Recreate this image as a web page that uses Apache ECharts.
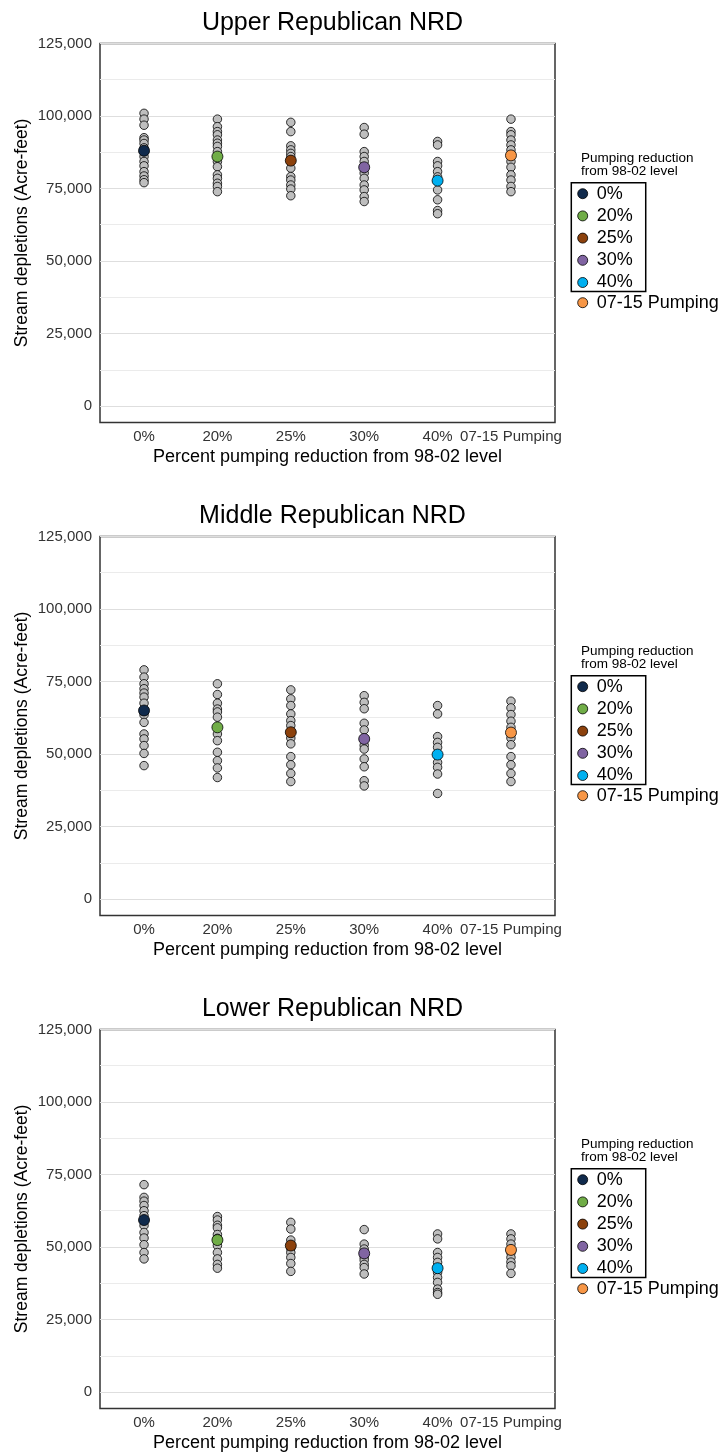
<!DOCTYPE html>
<html><head><meta charset="utf-8">
<script src="https://cdn.jsdelivr.net/npm/echarts@6/dist/echarts.min.js"></script>
<style>html,body{margin:0;padding:0;background:#fff}#c{width:725px;height:1455px}</style>
</head><body><div id="c"></div>
<script>
const categories = ['0%', '20%', '25%', '30%', '40%', '07-15 Pumping'];
const panelTitles = ['Upper Republican NRD', 'Middle Republican NRD', 'Lower Republican NRD'];
const yTicks = [0, 25000, 50000, 75000, 100000, 125000];
const legendTitle = 'Pumping reduction\nfrom 98-02 level';
const yAxisTitle = 'Stream depletions (Acre-feet)';
const xAxisTitle = 'Percent pumping reduction from 98-02 level';

// Upper Republican NRD: individual runs per category, and highlighted mean
const upperRuns = [
  [100900, 98900, 96800, 92500, 91700, 90500, 89000, 86000, 84300, 82800, 80800, 79300, 78000, 77000],
  [98900, 96300, 94600, 93500, 91700, 90600, 89500, 87700, 84300, 82500, 79700, 78500, 76800, 75700, 73900],
  [97800, 94600, 89700, 88300, 87100, 86000, 82000, 79100, 77900, 76200, 74800, 72500],
  [96000, 93700, 87700, 86000, 84300, 80300, 78500, 76200, 74500, 72200, 70500],
  [91200, 90000, 84300, 82800, 80800, 79000, 74500, 71100, 67400, 66300],
  [98900, 94600, 93500, 91700, 90000, 88300, 84300, 82300, 79700, 77900, 75700, 73900]
];
const upperMeans = [88000, 86000, 84600, 82300, 77700, 86400];

// Middle Republican NRD
const middleRuns = [
  [79000, 76500, 74200, 72500, 71000, 69600, 67500, 63500, 60900, 56900, 55200, 52900, 50200, 46000],
  [74200, 70500, 67500, 65500, 64500, 62700, 56900, 54600, 50600, 47700, 45200, 41900],
  [72100, 69000, 66700, 63800, 61500, 59800, 55500, 53500, 49100, 46300, 43300, 40500],
  [70100, 67800, 65600, 60600, 58300, 53000, 51700, 48300, 45600, 40800, 39000],
  [66700, 63800, 56000, 54000, 52300, 47100, 45400, 43100, 36400],
  [68200, 65900, 63600, 61300, 59200, 55500, 53200, 49100, 46300, 43300, 40500]
];
const middleMeans = [65000, 59200, 57500, 55200, 49800, 57400];

// Lower Republican NRD
const lowerRuns = [
  [71500, 67100, 65800, 64300, 62500, 60800, 57400, 55000, 53100, 50800, 48100, 45900],
  [60500, 59300, 57500, 56600, 54300, 53000, 50500, 48100, 45900, 44000, 42700],
  [58500, 56200, 52400, 49500, 48100, 46400, 44300, 41600],
  [56000, 51000, 49300, 46500, 45500, 44000, 42900, 40700],
  [54500, 52800, 48100, 46400, 44700, 41200, 39500, 37800, 35500, 34300, 33700],
  [54500, 52800, 51000, 48000, 46400, 44800, 43500, 40900]
];
const lowerMeans = [59300, 52400, 50500, 47800, 42700, 49000];

const meanColors = ['#102a4c', '#70ad47', '#8c410c', '#8064a2', '#00b0f0', '#f79646'];
const panelRuns = [upperRuns, middleRuns, lowerRuns];
const panelMeans = [upperMeans, middleMeans, lowerMeans];

const OFFSET = 493;
const gridTop = 43.4;
const gridHeight = 379;
const yMin = -5625, yStep = 625;
const FONT = 'Liberation Sans, Arial, sans-serif';

function fmt(v) {
  return String(v).replace(/\B(?=(\d{3})+(?!\d))/g, ',');
}
// split line colors: cycle every 25,000 (40 steps of 625): major at 0, minor at 12,500
const splitColors = [];
for (let i = 0; i < 40; i++) {
  splitColors.push(i === 9 ? '#dedede' : (i === 29 ? '#ebebeb' : 'rgba(0,0,0,0)'));
}

const grids = [], xAxes = [], yAxes = [], series = [], titles = [], legends = [];
for (let p = 0; p < 3; p++) {
  const off = p * OFFSET;
  grids.push({
    left: 100, width: 455, top: gridTop + off, height: gridHeight,
    show: true, borderColor: '#333', borderWidth: 1.5, backgroundColor: 'transparent'
  });
  xAxes.push({
    type: 'value', gridIndex: p, min: -0.6, max: 5.6,
    axisLine: { show: false }, axisTick: { show: false }, splitLine: { show: false },
    axisLabel: {
      customValues: [0, 1, 2, 3, 4, 5],
      formatter: v => categories[Math.round(v)],
      fontSize: 15, color: '#333', margin: 7, fontFamily: FONT
    },
    name: xAxisTitle, nameLocation: 'middle', nameGap: 26,
    nameTextStyle: { fontSize: 18, color: '#000', fontFamily: FONT }
  });
  yAxes.push({
    type: 'value', gridIndex: p, min: yMin, max: 125000, interval: yStep,
    axisLine: { show: false }, axisTick: { show: false },
    splitLine: { show: true, lineStyle: { color: splitColors, width: 1 } },
    axisLabel: {
      formatter: v => (yTicks.indexOf(v) >= 0 ? fmt(v) : ''),
      fontSize: 15, color: '#333', margin: 8, fontFamily: FONT
    },
    name: yAxisTitle, nameLocation: 'middle', nameGap: 69, nameMoveOverlap: false,
    nameTextStyle: { fontSize: 17.5, color: '#000', fontFamily: FONT }
  });
  const runData = [];
  panelRuns[p].forEach((vals, c) => vals.forEach(v => runData.push([c, v])));
  series.push({
    type: 'scatter', name: 'runs', xAxisIndex: p, yAxisIndex: p,
    data: runData, symbolSize: 8.5, z: 2,
    itemStyle: { color: '#bebebe', borderColor: '#000', borderWidth: 0.8, opacity: 1 }
  });
  panelMeans[p].forEach((m, c) => {
    series.push({
      type: 'scatter', name: categories[c], xAxisIndex: p, yAxisIndex: p,
      data: [[c, m]], symbolSize: 11, z: 3,
      itemStyle: { color: meanColors[c], borderColor: '#000', borderWidth: 0.8, opacity: 1 }
    });
  });
  titles.push({
    text: panelTitles[p], left: 327.5, textAlign: 'center', top: 3 + off,
    textStyle: { fontSize: 25, fontWeight: 'normal', color: '#000', lineHeight: 30, fontFamily: FONT }
  });
  titles.push({
    text: legendTitle, left: 576, top: 147 + off,
    textStyle: { fontSize: 13.5, fontWeight: 'normal', color: '#000', lineHeight: 13, fontFamily: FONT }
  });
  legends.push({
    data: categories.slice(0, 5), orient: 'vertical', left: 571.3, top: 182.7 + off,
    selectedMode: false, icon: 'circle', itemWidth: 18, itemHeight: 10, itemGap: 4.2,
    padding: [2, 13, 0, 6], borderColor: '#000', borderWidth: 1.5,
    textStyle: { fontSize: 18, lineHeight: 18, color: '#000', fontFamily: FONT },
    itemStyle: { borderColor: '#000', borderWidth: 0.8 }
  });
  legends.push({
    data: categories.slice(5), orient: 'vertical', left: 577.3, top: 293.7 + off,
    selectedMode: false, icon: 'circle', itemWidth: 18, itemHeight: 10,
    padding: 0,
    textStyle: { fontSize: 18, lineHeight: 18, color: '#000', fontFamily: FONT },
    itemStyle: { borderColor: '#000', borderWidth: 0.8 }
  });
}

const chart = echarts.init(document.getElementById('c'), null, { renderer: 'canvas' });
chart.setOption({
  animation: false,
  backgroundColor: '#fff',
  title: titles,
  legend: legends,
  grid: grids,
  xAxis: xAxes,
  yAxis: yAxes,
  series: series
});
</script>
</body></html>
